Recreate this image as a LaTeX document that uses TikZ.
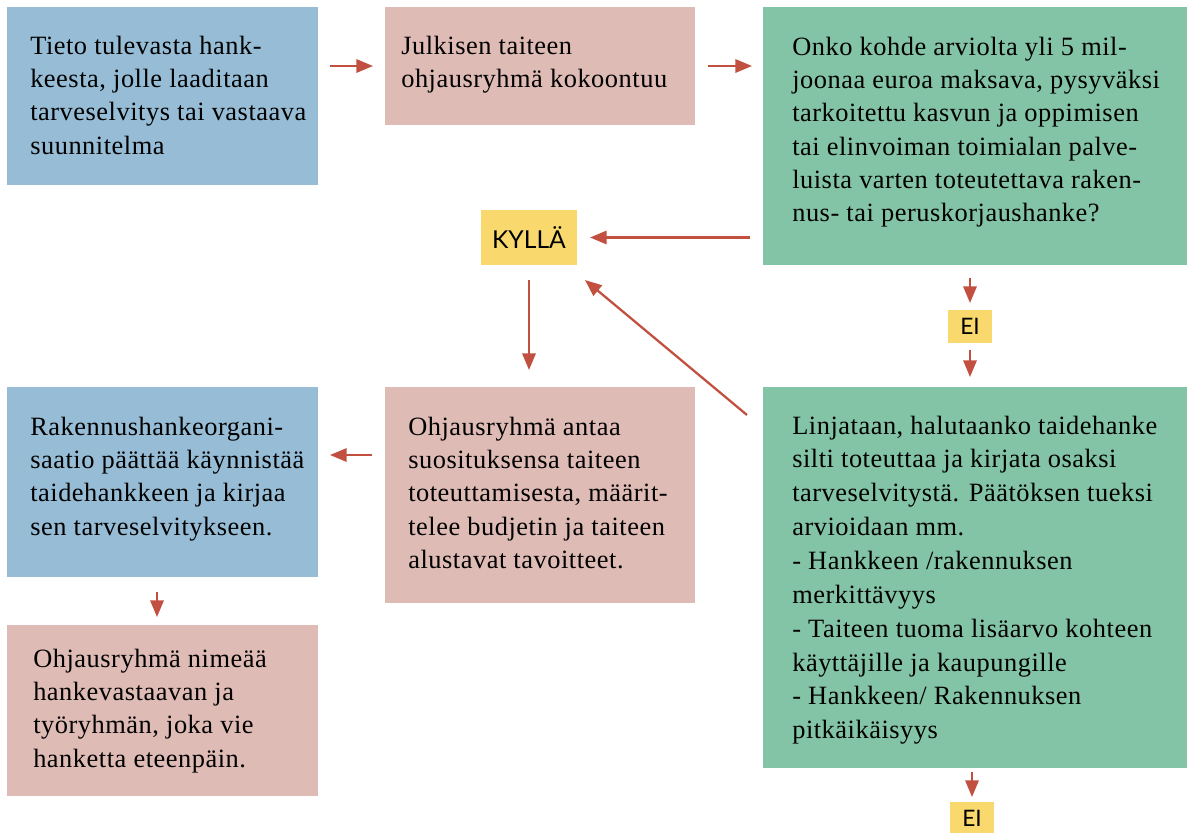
\documentclass[tikz,border=0pt]{standalone}
\usepackage{fontspec}
\setmainfont{Liberation Serif}[LetterSpace=2]
\newfontfamily\labelfont{Lato}
\usetikzlibrary{arrows.meta,calc,fit}
\definecolor{boxblue}{HTML}{97BDD6}
\definecolor{boxpink}{HTML}{DFBBB5}
\definecolor{boxgreen}{HTML}{84C4A6}
\definecolor{boxyellow}{HTML}{F9D96E}
\definecolor{arrowred}{HTML}{C15041}
\begin{document}
\begin{tikzpicture}[x=0.75pt,y=-0.75pt,
  box/.style={inner sep=0pt, outer sep=0pt, draw=none},
  bluebox/.style={box, fill=boxblue},
  pinkbox/.style={box, fill=boxpink},
  greenbox/.style={box, fill=boxgreen},
  tagbox/.style={box, fill=boxyellow, font=\labelfont\fontsize{17}{20}\selectfont},
  txt/.style={anchor=base west, inner sep=0pt, font=\fontsize{19.8}{25}\selectfont},
  arr/.style={draw=arrowred, line width=1.7pt, -{Triangle[length=12.5pt,width=10pt]}}
]
\clip (0,0) rectangle (1187,832);

% boxes
\node[bluebox,  fit={(7,7) (318,185)}] (b1) {};
\node[pinkbox,  fit={(385,7) (695,125)}] (b2) {};
\node[greenbox, fit={(763,7) (1190,265)}] (b3) {};
\node[greenbox, fit={(763,387) (1190,768)}] (b4) {};
\node[pinkbox,  fit={(385,387) (695,603)}] (b5) {};
\node[bluebox,  fit={(7,387) (318,577)}] (b6) {};
\node[pinkbox,  fit={(7,625) (318,796)}] (b7) {};

\node[tagbox, font=\labelfont\fontsize{18.5}{22}\selectfont,
      minimum width=72pt, minimum height=41.25pt] (ky) at (529,237.5) {KYLLÄ};
\node[tagbox, minimum width=33pt, minimum height=24.75pt] (ei1) at (970,326.5) {EI};
\node[tagbox, minimum width=33pt, minimum height=24.75pt] (ei2) at (972,818.5) {EI};

% texts
\node[txt] (t1) at ($(b1.north west)+(23,47)$) {\parbox[t]{400pt}{\raggedright
Tieto tulevasta hank-\\keesta, jolle laaditaan\\tarveselvitys tai vastaava\\suunnitelma}};
\node[txt] (t2) at ($(b2.north west)+(16,47)$) {\parbox[t]{400pt}{\raggedright
Julkisen taiteen\\ohjausryhmä kokoontuu}};
\node[txt] (t3) at ($(b3.north west)+(29,48)$) {\parbox[t]{400pt}{\raggedright
Onko kohde arviolta yli 5 mil-\\joonaa euroa maksava, pysyväksi\\tarkoitettu kasvun ja oppimisen\\tai elinvoiman toimialan palve-\\luista varten toteutettava raken-\\nus- tai peruskorjaushanke?}};
\node[txt, font=\fontsize{19.8}{25.4}\selectfont] (t4) at ($(b4.north west)+(29,47)$) {\parbox[t]{400pt}{\raggedright
Linjataan, halutaanko taidehanke\\silti toteuttaa ja kirjata osaksi\\tarveselvitystä. Päätöksen tueksi\\arvioidaan mm.\\- Hankkeen /rakennuksen\\merkittävyys\\- Taiteen tuoma lisäarvo kohteen\\käyttäjille ja kaupungille\\- Hankkeen/ Rakennuksen\\pitkäikäisyys}};
\node[txt] (t5) at ($(b5.north west)+(23,48)$) {\parbox[t]{400pt}{\raggedright
Ohjausryhmä antaa\\suosituksensa taiteen\\toteuttamisesta, määrit-\\telee budjetin ja taiteen\\alustavat tavoitteet.}};
\node[txt] (t6) at ($(b6.north west)+(23,48)$) {\parbox[t]{400pt}{\raggedright
Rakennushankeorgani-\\saatio päättää käynnistää\\taidehankkeen ja kirjaa\\sen tarveselvitykseen.}};
\node[txt] (t7) at ($(b7.north west)+(26,42)$) {\parbox[t]{400pt}{\raggedright
Ohjausryhmä nimeää\\hankevastaavan ja\\työryhmän, joka vie\\hanketta eteenpäin.}};

% connectors
\draw[arr, shorten <=9pt, shorten >=9pt] (b1.east |- b2.west) -- (b2.west);
\draw[arr, shorten <=9.75pt, shorten >=8.25pt] (b2.east) -- (b2.east -| b3.west);
\draw[arr, shorten <=9.75pt, shorten >=9.75pt] (b3.west |- ky.east) -- (ky.east);
\draw[arr, shorten <=11pt, shorten >=12.75pt] (ky.south) -- (ky.south |- b5.north);
\draw[arr] ($(b4.north west)+(-16,28)$) -- ($(ky.south east)+(8,15)$);
\draw[arr] ($(b5.north west)+(-13,68)$) -- ($(b6.north east)+(12,68)$);
\draw[arr, shorten <=11pt, shorten >=6pt] ($(b6.south west)+(150,0)$) -- ($(b7.north west)+(150,0)$);
\draw[arr, shorten <=9.75pt, shorten >=5.25pt] (ei1.north |- b3.south) -- (ei1.north);
\draw[arr, shorten <=5.25pt, shorten >=7.5pt] (ei1.south) -- (ei1.south |- b4.north);
\draw[arr, shorten <=3pt, shorten >=3.75pt] (ei2.north |- b4.south) -- (ei2.north);
\end{tikzpicture}
\end{document}
